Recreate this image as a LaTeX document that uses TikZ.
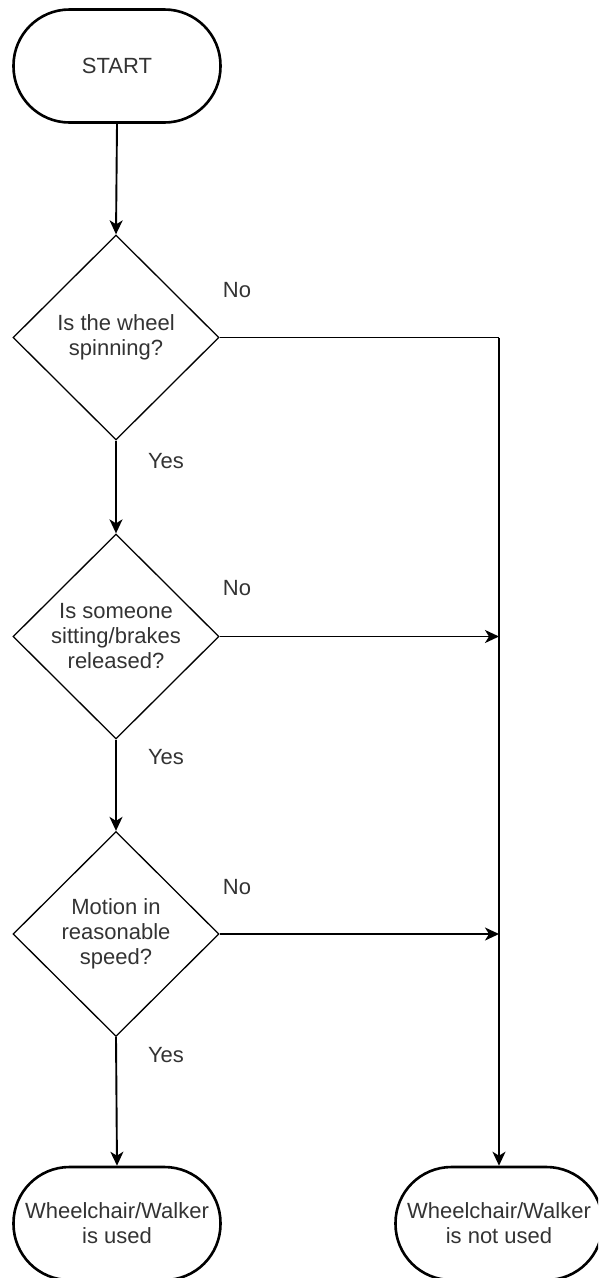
\documentclass[tikz,border=0pt]{standalone}
\usepackage{fontspec}
\setmainfont{Liberation Sans}
\usetikzlibrary{shapes.geometric,arrows.meta}
\tikzset{
  term/.style={draw=black, line width=2.6pt, rounded corners=56pt, minimum width=207pt, minimum height=113pt, inner sep=0pt, align=center, text=black!80, font=\fontsize{22}{25}\selectfont},
  decision/.style={draw=black, line width=1.3pt, diamond, aspect=1, minimum width=206pt, minimum height=205pt, inner sep=0pt, align=center, text=black!80, font=\fontsize{22}{25}\selectfont},
  conn/.style={draw=black, line width=1.9pt, -{Stealth[length=14pt,width=13pt,inset=4pt]}},
  line/.style={draw=black, line width=1.9pt},
  lbl/.style={text=black!80, font=\fontsize{22}{25}\selectfont, inner sep=0pt}
}
\begin{document}
\begin{tikzpicture}[x=1pt,y=-1pt]
\useasboundingbox (0,0) rectangle (598,1278);
\clip (0,0) rectangle (598,1278);
\node[term] (start) at (117,66) {START};
\node[decision] (d1) at (116,337.5) {Is the wheel\\spinning?};
\node[decision] (d2) at (116,636.5) {Is someone\\sitting/brakes\\released?};
\node[decision] (d3) at (116,934) {Motion in\\reasonable\\speed?};
\node[term] (used) at (117,1223.5) {Wheelchair/Walker\\is used};
\node[term] (notused) at (499,1223.5) {Wheelchair/Walker\\is not used};
\coordinate (c1) at (499,337.5);
\coordinate (c2) at (499,636.5);
\coordinate (c3) at (499,934);
\draw[conn] (start.south) -- (d1.north);
\draw[conn] (d1.south) -- (d2.north);
\draw[conn] (d2.south) -- (d3.north);
\draw[conn] (d3.south) -- (used.north);
\draw[line] (d1.east) -- (c1);
\draw[conn] (c1) -- (notused.north);
\draw[conn] (d2.east) -- (c2);
\draw[conn] (d3.east) -- (c3);
\node[lbl] (no1) at (237,290) {No};
\node[lbl] (yes1) at (166,461) {Yes};
\node[lbl] (no2) at (237,588) {No};
\node[lbl] (yes2) at (166,757) {Yes};
\node[lbl] (no3) at (237,887) {No};
\node[lbl] (yes3) at (166,1055) {Yes};
\end{tikzpicture}
\end{document}
